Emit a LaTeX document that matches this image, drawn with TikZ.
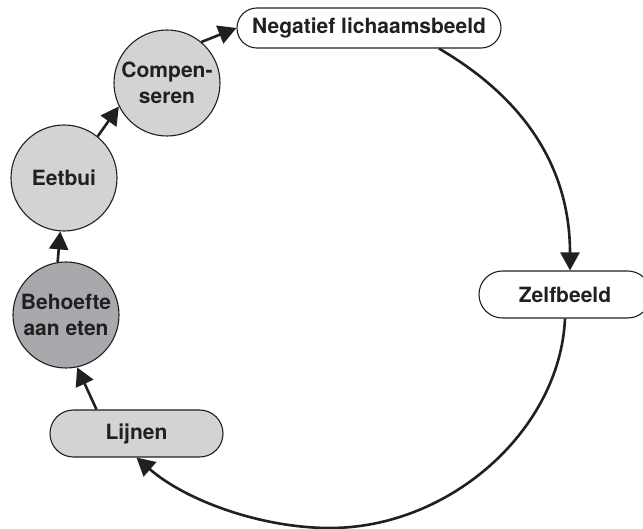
\documentclass[tikz,border=0pt]{standalone}
\usepackage{fontspec}
\setmainfont{TeX Gyre Heros}
\usetikzlibrary{arrows.meta}
\definecolor{ink}{HTML}{231F20}
\definecolor{lgray}{HTML}{D1D3D4}
\definecolor{dgray}{HTML}{A7A9AC}
\begin{document}
\begin{tikzpicture}[x=1pt,y=-1pt,
  every node/.style={font=\fontsize{21}{25.5}\selectfont\bfseries, text=ink},
  circ/.style={circle, draw=ink, line width=1.1pt, minimum size=106pt, inner sep=0pt, align=center},
  pill/.style={rectangle, rounded corners=#1, draw=ink, line width=1.1pt, inner sep=0pt},
  conn/.style={line width=2.6pt, draw=ink, -{Triangle[length=18pt,width=19pt]}}]
\useasboundingbox (0,0) rectangle (643,529);
\node[pill=19.9pt, fill=white, minimum width=264pt, minimum height=40pt] (neg) at (369,28) {Negatief lichaamsbeeld};
\node[pill=23.4pt, fill=white, minimum width=172pt, minimum height=47pt] (zelf) at (565,294.5) {Zelfbeeld};
\node[pill=23.4pt, fill=lgray, minimum width=173pt, minimum height=47pt] (lij) at (136.5,433.5) {Lijnen};
\node[circ, fill=dgray] (beh) at (66,315) {Behoefte\\aan eten};
\node[circ, fill=lgray] (eet) at (64,178) {Eetbui};
\node[circ, fill=lgray] (comp) at (167,83) {Compen-\\seren};
\coordinate (bot) at (330,528);
\draw[conn] ([xshift=-40pt]lij.north) -- (beh.282);
\draw[conn] (beh.99) -- (eet.266);
\draw[conn] (eet.51) -- (comp.206);
\draw[conn] (comp.50) -- (neg.west);
\draw[conn] ([xshift=70pt]neg.south) .. controls (527,100) and (570,170) .. ([xshift=5pt]zelf.north);
\draw[conn] (zelf.south) .. controls (560,430) and (450,528) .. (bot) .. controls (260,528) and (185,500) .. (lij.south);
\end{tikzpicture}
\end{document}
